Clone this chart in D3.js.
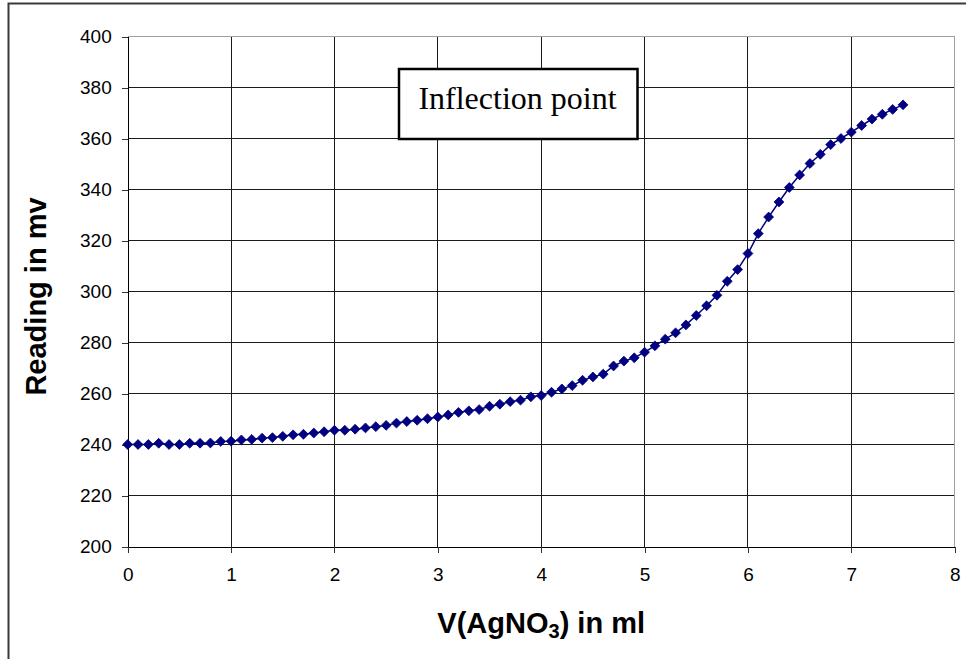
<!DOCTYPE html>
<html>
<head>
<meta charset="utf-8">
<script src="https://cdn.jsdelivr.net/npm/d3@7"></script>
<style>
  html, body { margin: 0; padding: 0; background: #fff; }
  svg { display: block; }
  text { fill: #000; }
</style>
</head>
<body>
<svg id="chart" width="966" height="659"></svg>
<script>
// Titration volume of AgNO3 added (ml)
const volumes = [
  0.0, 0.1, 0.2, 0.3, 0.4, 0.5, 0.6, 0.7, 0.8, 0.9,
  1.0, 1.1, 1.2, 1.3, 1.4, 1.5, 1.6, 1.7, 1.8, 1.9,
  2.0, 2.1, 2.2, 2.3, 2.4, 2.5, 2.6, 2.7, 2.8, 2.9,
  3.0, 3.1, 3.2, 3.3, 3.4, 3.5, 3.6, 3.7, 3.8, 3.9,
  4.0, 4.1, 4.2, 4.3, 4.4, 4.5, 4.6, 4.7, 4.8, 4.9,
  5.0, 5.1, 5.2, 5.3, 5.4, 5.5, 5.6, 5.7, 5.8, 5.9,
  6.0, 6.1, 6.2, 6.3, 6.4, 6.5, 6.6, 6.7, 6.8, 6.9,
  7.0, 7.1, 7.2, 7.3, 7.4, 7.5
];

// Electrode potential reading (mV)
const readings = [
  240.0, 240.0, 240.0, 240.5, 240.0, 240.0, 240.5, 240.5, 240.6, 241.2,
  241.3, 241.8, 242.0, 242.5, 242.7, 243.2, 243.8, 244.0, 244.5, 245.0,
  245.6, 245.6, 246.0, 246.5, 247.0, 247.5, 248.4, 249.0, 249.5, 250.1,
  250.8, 251.6, 252.6, 253.2, 253.7, 255.0, 255.8, 256.8, 257.4, 258.7,
  259.2, 260.5, 261.8, 263.1, 265.2, 266.5, 267.6, 270.8, 272.7, 274.0,
  276.2, 278.7, 281.3, 283.8, 286.9, 290.6, 294.4, 298.5, 304.0, 308.6,
  314.9, 322.7, 329.2, 335.1, 340.8, 345.7, 350.2, 353.8, 357.6, 360.0,
  362.5, 365.1, 367.6, 369.5, 371.4, 373.2
];

const xTicks = [0, 1, 2, 3, 4, 5, 6, 7, 8];
const yTicks = [200, 220, 240, 260, 280, 300, 320, 340, 360, 380, 400];

const xTitle = "V(AgNO";
const xTitleSub = "3";
const xTitleEnd = ") in ml";
const yTitle = "Reading in mv";
const noteText = "Inflection point";

const SANS = "Arial, 'Liberation Sans', sans-serif";
const SERIF = "'Times New Roman', 'Liberation Serif', serif";

const svg = d3.select("#chart");

// outer chart frame (runs off the right and bottom edges)
svg.append("rect")
  .attr("x", 8.5).attr("y", 3.5)
  .attr("width", 980).attr("height", 680)
  .attr("fill", "#fff")
  .attr("stroke", "#3a3a3a")
  .attr("stroke-width", 2);

const plot = { left: 127.7, right: 954.7, top: 36.5, bottom: 546.5 };

const x = d3.scaleLinear().domain([0, 8]).range([plot.left, plot.right]);
const y = d3.scaleLinear().domain([200, 400]).range([plot.bottom, plot.top]);

// grid lines
const grid = svg.append("g").attr("shape-rendering", "crispEdges");
grid.selectAll("line.h")
  .data(yTicks.filter(v => v !== 200 && v !== 400))
  .join("line")
  .attr("x1", plot.left).attr("x2", plot.right)
  .attr("y1", d => y(d)).attr("y2", d => y(d))
  .attr("stroke", "#1a1a1a").attr("stroke-width", 1);
grid.selectAll("line.v")
  .data(xTicks.filter(v => v !== 0 && v !== 8))
  .join("line")
  .attr("y1", plot.top).attr("y2", plot.bottom)
  .attr("x1", d => x(d)).attr("x2", d => x(d))
  .attr("stroke", "#1a1a1a").attr("stroke-width", 1);

// plot-area border (top and right in grey)
grid.append("line")
  .attr("x1", plot.left).attr("x2", plot.right)
  .attr("y1", plot.top).attr("y2", plot.top)
  .attr("stroke", "#a0a0a0");
grid.append("line")
  .attr("x1", plot.right).attr("x2", plot.right)
  .attr("y1", plot.top).attr("y2", plot.bottom)
  .attr("stroke", "#a0a0a0");

// axes
const xAxis = d3.axisBottom(x).tickValues(xTicks).tickFormat(d3.format("d"))
  .tickSize(6).tickPadding(15).tickSizeOuter(0);
const yAxis = d3.axisLeft(y).tickValues(yTicks).tickFormat(d3.format("d"))
  .tickSize(6).tickPadding(10).tickSizeOuter(0);

const gx = svg.append("g")
  .attr("transform", `translate(0,${plot.bottom})`)
  .attr("shape-rendering", "crispEdges")
  .call(xAxis);
const gy = svg.append("g")
  .attr("transform", `translate(${plot.left},0)`)
  .attr("shape-rendering", "crispEdges")
  .call(yAxis);

[gx, gy].forEach(g => {
  g.select(".domain").attr("stroke", "#000").attr("stroke-width", 1);
  g.selectAll(".tick line").attr("stroke", "#333");
  g.selectAll(".tick text")
    .style("font-family", SANS)
    .style("font-size", "19px")
    .attr("fill", "#000");
});

// titration curve
const line = d3.line()
  .x((d, i) => x(volumes[i]))
  .y(d => y(d));

svg.append("path")
  .datum(readings)
  .attr("d", line)
  .attr("fill", "none")
  .attr("stroke", "#000080")
  .attr("stroke-width", 1.5);

const diamond = d3.symbol().type(d3.symbolDiamond2).size(62);
svg.append("g")
  .selectAll("path")
  .data(readings)
  .join("path")
  .attr("transform", (d, i) => `translate(${x(volumes[i])},${y(d)})`)
  .attr("d", diamond)
  .attr("fill", "#000080")
  .attr("stroke", "#000080")
  .attr("stroke-width", 0.8);

// annotation box
const note = svg.append("g");
note.append("rect")
  .attr("x", 399).attr("y", 69)
  .attr("width", 238.5).attr("height", 70)
  .attr("fill", "#fff")
  .attr("stroke", "#000")
  .attr("stroke-width", 2.5);
note.append("text")
  .attr("x", 517.5).attr("y", 108.5)
  .attr("text-anchor", "middle")
  .style("font-family", SERIF)
  .style("font-size", "32px")
  .text(noteText);

// axis titles
const xt = svg.append("text")
  .attr("x", x(4)).attr("y", 633)
  .attr("text-anchor", "middle")
  .style("font-family", SANS)
  .style("font-weight", "bold")
  .style("font-size", "29px");
xt.append("tspan").text(xTitle);
xt.append("tspan").style("font-size", "20px").attr("dy", 5).text(xTitleSub);
xt.append("tspan").attr("dy", -5).text(xTitleEnd);

svg.append("text")
  .attr("transform", `translate(46,${(plot.top + plot.bottom) / 2 + 5}) rotate(-90)`)
  .attr("text-anchor", "middle")
  .style("font-family", SANS)
  .style("font-weight", "bold")
  .style("font-size", "29px")
  .text(yTitle);
</script>
</body>
</html>
